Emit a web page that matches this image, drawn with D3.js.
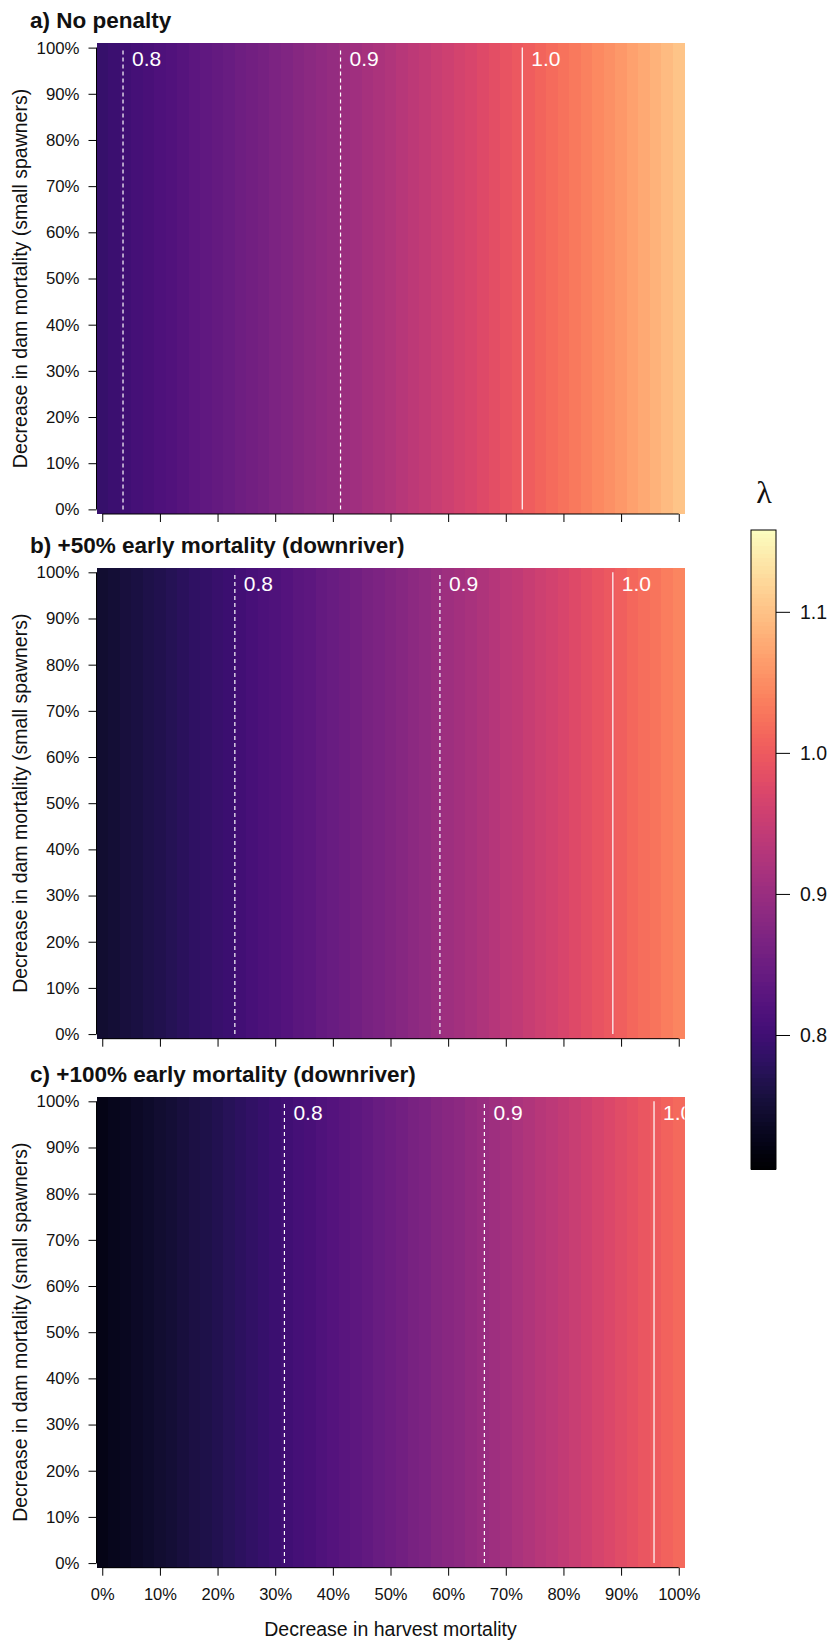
<!DOCTYPE html>
<html>
<head>
<meta charset="utf-8">
<script src="https://cdn.jsdelivr.net/npm/d3@7"></script>
<style>
body { margin: 0; background: #fff; }
text { font-family: "Liberation Sans", Arial, Helvetica, sans-serif; fill: #111; }
</style>
</head>
<body>
<div id="chart"></div>
<script>
// decrease in harvest mortality (%), one column of cells per step
var harvest = [0,2,4,6,8,10,12,14,16,18,20,22,24,26,28,30,32,34,36,38,40,42,44,46,48,50,
  52,54,56,58,60,62,64,66,68,70,72,74,76,78,80,82,84,86,88,90,92,94,96,98,100];

// population growth rate (lambda) per harvest column, one array per panel
var lambdaA = [0.791,0.796,0.801,0.806,0.810,0.815,0.820,0.825,0.831,0.836,0.841,0.846,0.852,0.857,0.862,0.868,0.873,
  0.879,0.885,0.890,0.896,0.902,0.908,0.914,0.920,0.926,0.932,0.939,0.945,0.951,0.958,0.964,0.970,0.977,
  0.984,0.990,0.997,1.004,1.011,1.018,1.025,1.032,1.039,1.046,1.053,1.060,1.068,1.075,1.084,1.093,1.103];
var lambdaB = [0.746,0.750,0.755,0.759,0.764,0.768,0.773,0.778,0.783,0.788,0.792,0.797,0.803,0.808,0.813,0.818,0.823,
  0.829,0.834,0.840,0.845,0.851,0.857,0.863,0.868,0.874,0.880,0.886,0.892,0.898,0.905,0.911,0.917,0.924,
  0.930,0.937,0.943,0.950,0.957,0.963,0.970,0.977,0.984,0.991,0.998,1.005,1.013,1.020,1.027,1.035,1.042];
var lambdaC = [0.724,0.729,0.733,0.737,0.742,0.746,0.751,0.756,0.761,0.765,0.770,0.775,0.780,0.785,0.790,0.796,0.801,
  0.806,0.811,0.817,0.822,0.828,0.834,0.839,0.845,0.851,0.857,0.863,0.869,0.875,0.881,0.887,0.893,0.899,
  0.906,0.912,0.919,0.925,0.932,0.938,0.945,0.952,0.959,0.966,0.973,0.980,0.987,0.994,1.001,1.008,1.016];

var panelTitles = ["a) No penalty", "b) +50% early mortality (downriver)", "c) +100% early mortality (downriver)"];
var pctTicks = [0,10,20,30,40,50,60,70,80,90,100];
var contourLevels = [0.8, 0.9, 1.0];
var legendTicks = [0.8, 0.9, 1.0, 1.1];
var lambdaRange = [0.705, 1.158];

var panels = [lambdaA, lambdaB, lambdaC];
var panelTops = [43, 567.7, 1096.7],
    panelHeight = 471,
    plotLeft = 96.5,
    plotRight = 684.5;

var svg = d3.select("#chart")
  .append("svg")
    .attr("width", 840)
    .attr("height", 1640);

var color = d3.scaleSequential(d3.interpolateMagma).domain(lambdaRange);

// cells run from -1% to 101% so the ticks sit on cell centres
var x = d3.scaleLinear()
  .domain([-1, 101])
  .range([plotLeft, plotRight]);

// where a contour level crosses the harvest columns
function crossing(vals, level) {
  for (var i = 0; i < vals.length - 1; i++) {
    if (vals[i] <= level && vals[i + 1] > level) {
      return harvest[i] + (level - vals[i]) / (vals[i + 1] - vals[i]) * (harvest[i + 1] - harvest[i]);
    }
  }
  return null;
}

panels.forEach(function(vals, p) {
  var top = panelTops[p];
  var y = d3.scaleLinear()
    .domain([-1, 101])
    .range([top + panelHeight, top]);

  var g = svg.append("g");

  svg.append("clipPath")
      .attr("id", "clip" + p)
    .append("rect")
      .attr("x", plotLeft)
      .attr("y", top)
      .attr("width", plotRight - plotLeft)
      .attr("height", panelHeight);

  // heat map columns
  g.selectAll("rect.cell")
    .data(harvest)
    .enter()
    .append("rect")
      .attr("class", "cell")
      .attr("x", function(d) { return x(d - 1); })
      .attr("width", function(d) { return x(d + 1) - x(d - 1) + 0.4; })
      .attr("y", y(101))
      .attr("height", y(-1) - y(101))
      .attr("shape-rendering", "crispEdges")
      .style("fill", function(d, i) { return color(vals[i]); });

  // contour lines + labels
  var cg = g.append("g").attr("clip-path", "url(#clip" + p + ")");
  contourLevels.forEach(function(level) {
    var hx = crossing(vals, level);
    if (hx === null) return;
    cg.append("line")
      .attr("x1", x(hx)).attr("x2", x(hx))
      .attr("y1", y(0)).attr("y2", y(100))
      .style("stroke", "#fff")
      .style("stroke-width", 1.2)
      .style("stroke-dasharray", level === 1.0 ? null : "4,3");
    cg.append("text")
      .attr("x", x(hx) + 9)
      .attr("y", top + 23)
      .text(d3.format(".1f")(level))
      .style("fill", "#fff")
      .style("font-size", "21px");
  });

  // y axis
  var ya = g.append("g")
    .attr("transform", "translate(" + plotLeft + ",0)")
    .call(d3.axisLeft(y).tickValues(pctTicks).tickSize(8).tickPadding(9)
      .tickFormat(function(d) { return d + "%"; }));
  ya.select(".domain").remove();
  ya.selectAll("text").style("font-size", "16.8px").style("font-family", null);
  g.append("line")
    .attr("x1", plotLeft).attr("x2", plotLeft)
    .attr("y1", y(0)).attr("y2", y(100))
    .style("stroke", "#000");

  // x axis, labels only on the last panel
  var xa = g.append("g")
    .attr("transform", "translate(0," + (top + panelHeight) + ")")
    .call(d3.axisBottom(x).tickValues(pctTicks).tickSize(8).tickPadding(13)
      .tickFormat(function(d) { return p === 2 ? d + "%" : ""; }));
  xa.select(".domain").remove();
  xa.selectAll("text").style("font-size", "16.5px").style("font-family", null);
  g.append("line")
    .attr("x1", x(0)).attr("x2", x(100))
    .attr("y1", top + panelHeight).attr("y2", top + panelHeight)
    .style("stroke", "#000");

  // panel title
  g.append("text")
    .attr("x", 30)
    .attr("y", top - 15)
    .text(panelTitles[p])
    .style("font-size", "22.5px")
    .style("font-weight", "bold");

  // y axis title
  g.append("text")
    .attr("transform", "translate(27," + (top + panelHeight / 2) + ") rotate(-90)")
    .attr("text-anchor", "middle")
    .text("Decrease in dam mortality (small spawners)")
    .style("font-size", "19.5px");
});

// x axis title
svg.append("text")
  .attr("x", (x(0) + x(100)) / 2)
  .attr("y", 1636)
  .attr("text-anchor", "middle")
  .text("Decrease in harvest mortality")
  .style("font-size", "19.5px");

// colour bar
var barX = 751, barW = 25;
var legY = d3.scaleLinear()
  .domain(lambdaRange)
  .range([1169, 530]);
var legStep = (lambdaRange[1] - lambdaRange[0]) / 160;
var legSteps = d3.range(160).map(function(i) { return lambdaRange[0] + legStep * i; });
svg.append("g").selectAll("rect")
  .data(legSteps)
  .enter()
  .append("rect")
    .attr("x", barX)
    .attr("width", barW)
    .attr("y", function(d) { return legY(d + legStep) - 0.5; })
    .attr("height", function(d) { return legY(d) - legY(d + legStep) + 1; })
    .attr("shape-rendering", "crispEdges")
    .style("fill", function(d) { return color(d + legStep / 2); });
svg.append("rect")
  .attr("x", barX).attr("y", 530)
  .attr("width", barW).attr("height", 639)
  .style("fill", "none")
  .style("stroke", "#000");
var la = svg.append("g")
  .attr("transform", "translate(" + (barX + barW) + ",0)")
  .call(d3.axisRight(legY).tickValues(legendTicks).tickSize(14).tickPadding(10)
    .tickFormat(d3.format(".1f")));
la.select(".domain").remove();
la.selectAll("text").style("font-size", "19.5px").style("font-family", null);

svg.append("text")
  .attr("x", 764)
  .attr("y", 503)
  .attr("text-anchor", "middle")
  .text("λ")
  .style("font-family", "'Liberation Serif', 'DejaVu Serif', serif")
  .style("font-size", "32px");
</script>
</body>
</html>
